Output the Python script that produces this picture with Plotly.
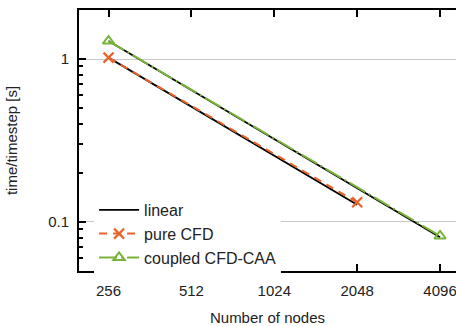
import math
import plotly.graph_objects as go

nodes_cfd = [256, 2048]
time_cfd = [1.02, 0.132]
linear_cfd = [1.02, 0.1275]

nodes_cpl = [256, 4096]
time_cpl = [1.29, 0.082]
linear_cpl = [1.29, 0.0806]

xtick_vals = [256, 512, 1024, 2048, 4096]
xtick_text = ["256", "512", "1024", "2048", "4096"]
ytick_vals = [0.1, 1]
ytick_text = ["0.1", "1"]
yminor_vals = [0.05, 0.06, 0.07, 0.08, 0.09, 0.2, 0.3, 0.4, 0.5, 0.6, 0.7, 0.8, 0.9, 2]

ORANGE = "#E8632B"
GREEN = "#78B43A"
FAMILY = "Liberation Sans"

fig = go.Figure()
fig.add_trace(go.Scatter(x=nodes_cfd, y=linear_cfd, mode="lines", name="linear",
                         line=dict(color="black", width=1.8)))
fig.add_trace(go.Scatter(x=nodes_cpl, y=linear_cpl, mode="lines", showlegend=False,
                         line=dict(color="black", width=1.8)))
fig.add_trace(go.Scatter(x=nodes_cfd, y=time_cfd, mode="lines+markers", name="pure CFD",
                         line=dict(color=ORANGE, width=2, dash="8px,6px"),
                         marker=dict(symbol="x-thin-open", size=10, line=dict(color=ORANGE, width=2.2))))
fig.add_trace(go.Scatter(x=nodes_cpl, y=time_cpl, mode="lines+markers", name="coupled CFD-CAA",
                         line=dict(color=GREEN, width=2, dash="18px,4px,2px,4px"),
                         marker=dict(symbol="triangle-up-open", size=10, color=GREEN,
                                     line=dict(color=GREEN, width=2))))

fig.update_layout(
    width=456, height=326,
    margin=dict(l=79, r=0, t=10, b=55),
    paper_bgcolor="white", plot_bgcolor="white",
    font=dict(family=FAMILY, size=15, color="#222222"),
    showlegend=True,
    legend=dict(x=0.04, y=-0.015, xanchor="left", yanchor="bottom",
                bgcolor="white", borderwidth=0, font=dict(size=16, family=FAMILY, color="#222222"),
                tracegroupgap=0, itemwidth=40),
)
fig.update_xaxes(
    type="log", range=[math.log10(200), math.log10(4680)],
    tickvals=xtick_vals, ticktext=xtick_text,
    ticks="inside", ticklen=7, tickwidth=1.5, tickcolor="black",
    showline=True, linecolor="black", linewidth=2, mirror="ticks",
    showgrid=False, zeroline=False, automargin=False,
    ticklabeloverflow="allow", ticklabelstandoff=5,
    title=dict(text="Number of nodes", standoff=14, font=dict(size=15, family=FAMILY)),
    tickfont=dict(size=15, family=FAMILY),
)
fig.update_yaxes(
    type="log", range=[-1.301, 0.301],
    tickvals=ytick_vals, ticktext=ytick_text,
    ticks="inside", ticklen=7, tickwidth=1.5, tickcolor="black",
    minor=dict(tickvals=yminor_vals, ticks="inside", ticklen=4, tickwidth=1.5, tickcolor="black", showgrid=False),
    showline=True, linecolor="black", linewidth=2, mirror=False,
    showgrid=True, gridcolor="#c8c8c8", gridwidth=1, zeroline=False, automargin=False,
    ticklabelstandoff=5,
    title=dict(text="time/timestep [s]", standoff=27, font=dict(size=15, family=FAMILY)),
    tickfont=dict(size=15, family=FAMILY),
)

fig.write_html("out.html", config={"displayModeBar": False},
               post_script="document.body.style.margin='0px';document.body.style.overflow='hidden';")
